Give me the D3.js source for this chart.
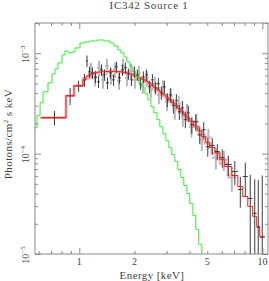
<!DOCTYPE html>
<html><head><meta charset="utf-8">
<script src="https://cdn.jsdelivr.net/npm/d3@7"></script>
<style>body{margin:0;background:#fff;} svg{display:block;}</style>
</head><body><svg id="c" width="269" height="281"></svg>
<script>
const title = "IC342 Source 1";
const xLabel = "Energy [keV]";
const yLabelMain = "Photons/cm";
const yLabelRest = " s keV";
const xDomain = [0.573, 10.73];
const yDomain = [1e-5, 2e-3];
const xTickLabels = [1, 2, 5, 10];
const xMajorTicks = [1, 10];
const xMinorTicks = [0.6, 0.7, 0.8, 0.9, 2, 3, 4, 5, 6, 7, 8, 9];
const yTickValues = [1e-3, 1e-4, 1e-5];
const yTickExps = ["\u22123", "\u22124", "\u22125"];
const fluxUnit = 1e-4; // values below in units of 1e-4 photons/cm2/s/keV

// Dataset 1 (black) – bin edges (keV), flux, error, model (red)
const blackEdges = [0.618, 0.846, 0.936, 1.047, 1.088, 1.115, 1.158, 1.203, 1.249, 1.297, 1.347, 1.399, 1.452, 1.508, 1.566, 1.626, 1.689, 1.754, 1.820, 1.890, 1.963, 2.038, 2.116, 2.198, 2.282, 2.370, 2.461, 2.555, 2.653, 2.754, 2.860, 2.970, 3.084, 3.202, 3.325, 3.453, 3.585, 3.723, 3.866, 4.014, 4.220, 4.437, 4.664, 4.904, 5.159, 5.494, 5.850, 6.228, 6.80, 7.34, 7.81, 8.32, 8.85, 9.31, 9.67, 10.29];
const blackFlux = [2.28, 3.77, 4.74, 5.43,
  8.39, 6.52, 6.37, 5.82, 5.19, 6.83, 6.09, 5.07, 6.37, 5.43, 7.31, 5.69, 6.83, 7.15, 6.23, 5.43, 6.52, 6.09, 4.96, 5.82, 6.09, 4.63, 5.43, 4.52, 4.96, 4.04, 4.63, 3.44, 3.85, 3.00, 3.36, 2.61, 2.86, 2.18, 2.55, 1.94, 2.08, 1.54, 1.73, 1.17,
  1.20, 1.05, 0.913, 0.778, 0.663, 0.439, 0.591, 0.357, 0.254, 0.184, 0.147];
const blackErr = [0.37, 0.74, 0.60, 0.80,
  1.1, 0.85, 0.83, 0.76, 0.68, 0.89, 0.79, 0.66, 0.83, 0.71, 0.95, 0.74, 0.89, 0.93, 0.81, 0.71, 0.85, 0.79, 0.65, 0.76, 0.79, 0.65, 0.76, 0.63, 0.69, 0.61, 0.69, 0.55, 0.62, 0.50, 0.55, 0.44, 0.49, 0.39, 0.46, 0.36, 0.38, 0.30, 0.33, 0.24,
  0.22, 0.19, 0.19, 0.18, 0.18, 0.15, 0.22, 0.26, 0.30, 0.36, 0.46];
const redModel = [2.28, 3.77, 4.74, 5.43,
  5.89, 6.05, 6.23, 6.37, 6.48, 6.52, 6.55, 6.58, 6.60, 6.60, 6.58, 6.55, 6.49, 6.42, 6.33, 6.20, 6.05, 5.87, 5.69, 5.49, 5.27, 5.07, 4.79, 4.54, 4.32, 4.08, 3.85, 3.64, 3.44, 3.21, 3.00, 2.80, 2.61, 2.44, 2.25, 2.08, 1.88, 1.69, 1.48, 1.29,
  1.15, 1.02, 0.872, 0.743, 0.605, 0.470, 0.374, 0.298, 0.237, 0.188, 0.150];

// Dataset 2 (grey) – bin edges, flux, error; model (pink)
const grayEdges = [1.129, 1.188, 1.249, 1.313, 1.381, 1.452, 1.527, 1.606, 1.689, 1.775, 1.866, 1.963, 2.063, 2.170, 2.282, 2.399, 2.523, 2.653, 2.789, 2.933, 3.084, 3.243, 3.410, 3.585, 3.770, 3.964, 4.222, 4.494, 4.845, 5.291, 5.850, 6.468, 7.152];
const grayFlux = [6.83, 5.69, 7.15, 5.43, 7.48, 5.95, 6.83, 5.31, 7.48, 5.69, 6.67, 5.43, 6.37, 4.84, 5.69, 4.32, 4.96, 3.85, 4.52, 3.28, 3.77, 2.73, 3.14, 2.33, 2.61, 1.85, 2.08, 1.38, 1.44, 0.913, 0.872, 0.578];
const grayErr = [1.2, 1.0, 1.3, 1.0, 1.3, 1.1, 1.2, 1.0, 1.3, 1.0, 1.2, 1.0, 1.1, 0.9, 1.0, 0.8, 0.9, 0.75, 0.85, 0.65, 0.7, 0.55, 0.6, 0.48, 0.52, 0.4, 0.42, 0.32, 0.33, 0.22, 0.2, 0.16];
const pinkEdges = [0.611, 0.846, 0.936, 1.047, 1.129, 1.188, 1.249, 1.313, 1.381, 1.452, 1.527, 1.606, 1.689, 1.775, 1.866, 1.963, 2.063, 2.170, 2.282, 2.399, 2.523, 2.653, 2.789, 2.933, 3.084, 3.243, 3.410, 3.585, 3.770, 3.964, 4.222, 4.494, 4.845, 5.291, 5.850, 6.468, 7.152];
const pinkModel = [2.28, 3.77, 4.74, 5.60, 6.16, 6.37, 6.49, 6.55, 6.58, 6.60, 6.58, 6.54, 6.48, 6.37, 6.17, 5.98, 5.69, 5.49, 5.19, 4.84, 4.47, 4.18, 3.85, 3.60, 3.32, 3.07, 2.80, 2.55, 2.33, 2.10, 1.85, 1.54, 1.26, 1.00, 0.796, 0.605];

// Green model component
const greenEdges = [0.573, 0.588, 0.611, 0.634, 0.675, 0.710, 0.737, 0.765, 0.805, 0.836, 0.868, 0.912, 0.947, 1.009, 1.074, 1.144, 1.249, 1.363, 1.470, 1.546, 1.626, 1.689, 1.754, 1.820, 1.890, 1.963, 2.038, 2.116, 2.198, 2.282, 2.370, 2.461, 2.555, 2.653, 2.754, 2.860, 2.970, 3.084, 3.202, 3.325, 3.453, 3.585, 3.723, 3.866, 4.014, 4.169, 4.329, 4.494, 4.667, 4.845];
const greenFlux = [1.81, 2.39, 3.21, 4.13, 5.07, 6.23, 6.99, 8.01, 9.62, 10.54, 10.07, 10.30, 11.29, 12.66, 12.96, 13.25, 13.55, 13.25, 12.66, 11.82, 10.78, 10.07, 9.19, 8.20, 7.31, 6.52, 5.82, 5.07, 4.52, 3.94, 3.44, 2.93, 2.55, 2.18, 1.85, 1.58, 1.35, 1.15, 0.977, 0.833, 0.693, 0.578, 0.481, 0.401, 0.319, 0.242, 0.176, 0.125, 0.089];

const L = 35, R = 268, T = 23, B = 254;
const FONT = "'Liberation Serif', 'DejaVu Serif', serif";
const TXT = "#444", AX = "#888";
const x = d3.scaleLog().domain(xDomain).range([L, R]);
const y = d3.scaleLog().domain(yDomain).range([B, T]);
const yc = v => y(Math.max(v, 1e-7));
const svg = d3.select("#c");

svg.append("defs").append("clipPath").attr("id", "pc")
  .append("rect").attr("x", L).attr("y", T).attr("width", R - L).attr("height", B - T);

function hist(edges, vals) {
  const pts = [];
  vals.forEach((v, i) => { pts.push([edges[i], v * fluxUnit]); pts.push([edges[i + 1], v * fluxUnit]); });
  return pts;
}
const line = d3.line().x(d => x(d[0])).y(d => yc(d[1]));

const plot = svg.append("g").attr("clip-path", "url(#pc)");

function crosses(edges, flux, err, color, width) {
  const g = plot.append("g").attr("stroke", color).attr("stroke-width", width).attr("fill", "none");
  flux.forEach((f, i) => {
    const lo = edges[i], hi = edges[i + 1], c = (lo + hi) / 2;
    g.append("line").attr("x1", x(lo)).attr("x2", x(hi))
      .attr("y1", yc(f * fluxUnit)).attr("y2", yc(f * fluxUnit));
    g.append("line").attr("x1", x(c)).attr("x2", x(c))
      .attr("y1", yc((f + err[i]) * fluxUnit)).attr("y2", yc((f - err[i]) * fluxUnit));
  });
}

crosses(grayEdges, grayFlux, grayErr, "#b8b8b8", 2);
plot.append("path").attr("d", line(hist(pinkEdges, pinkModel)))
  .attr("fill", "none").attr("stroke", "#ffb0b0").attr("stroke-width", 2.5);
crosses(blackEdges, blackFlux, blackErr, "#3a3a3a", 1);
plot.append("path").attr("d", line(hist(blackEdges, redModel)))
  .attr("fill", "none").attr("stroke", "#ee2222").attr("stroke-width", 1);
plot.append("path").attr("d", line(hist(greenEdges, greenFlux)))
  .attr("fill", "none").attr("stroke", "#33ee33").attr("stroke-width", 1);

// Axes (ticks inward on all sides)
const yMinor = [];
[1e-5, 1e-4, 1e-3].forEach(d => [2,3,4,5,6,7,8,9].forEach(m => { if (m * d <= yDomain[1]) yMinor.push(m * d); }));

function addAxis(axis, tr) {
  const g = svg.append("g").attr("transform", tr).call(axis);
  g.select(".domain").remove();
  g.selectAll("line").attr("stroke", AX);
  g.selectAll("text").remove();
}
[[d3.axisBottom, `translate(0,${B})`, x, xMinorTicks, xMajorTicks],
 [d3.axisTop, `translate(0,${T})`, x, xMinorTicks, xMajorTicks],
 [d3.axisLeft, `translate(${L},0)`, y, yMinor, yTickValues],
 [d3.axisRight, `translate(${R},0)`, y, yMinor, yTickValues]].forEach(([ax, tr, sc, minor, major]) => {
  addAxis(ax(sc).tickValues(minor).tickSize(-3).tickFormat(""), tr);
  addAxis(ax(sc).tickValues(major).tickSize(-6).tickFormat(""), tr);
});
svg.append("rect").attr("x", L).attr("y", T).attr("width", R - L).attr("height", B - T)
  .attr("fill", "none").attr("stroke", AX).attr("stroke-width", 1);

// X tick labels
svg.append("g").selectAll("text").data(xTickLabels).join("text")
  .attr("x", d => x(d)).attr("y", 265).attr("text-anchor", "middle")
  .attr("font-family", FONT).attr("font-size", 10).attr("fill", TXT).text(d => d);

// Y tick labels (rotated, 10^n)
yTickValues.forEach((v, i) => {
  const t = svg.append("text").attr("transform", `translate(28.5,${y(v) + 1}) rotate(-90)`)
    .attr("text-anchor", "middle").attr("font-family", FONT).attr("font-size", 10).attr("fill", TXT);
  t.append("tspan").text("10");
  t.append("tspan").attr("font-size", 7).attr("dy", -4).text(yTickExps[i]);
});

// Titles
svg.append("text").attr("x", 149).attr("y", 9).attr("text-anchor", "middle")
  .attr("font-family", FONT).attr("font-size", 11).attr("letter-spacing", 0.7).attr("fill", TXT).text(title);
svg.append("text").attr("x", 152).attr("y", 279).attr("text-anchor", "middle")
  .attr("font-family", FONT).attr("font-size", 11).attr("letter-spacing", 0.4).attr("fill", TXT).text(xLabel);
const yl = svg.append("text").attr("transform", "translate(12,134) rotate(-90)")
  .attr("text-anchor", "middle").attr("font-family", FONT).attr("font-size", 11)
  .attr("letter-spacing", 0.4).attr("fill", TXT);
yl.append("tspan").text(yLabelMain);
yl.append("tspan").attr("font-size", 7).attr("dy", -4).text("2");
yl.append("tspan").attr("dy", 4).text(yLabelRest);
</script></body></html>
